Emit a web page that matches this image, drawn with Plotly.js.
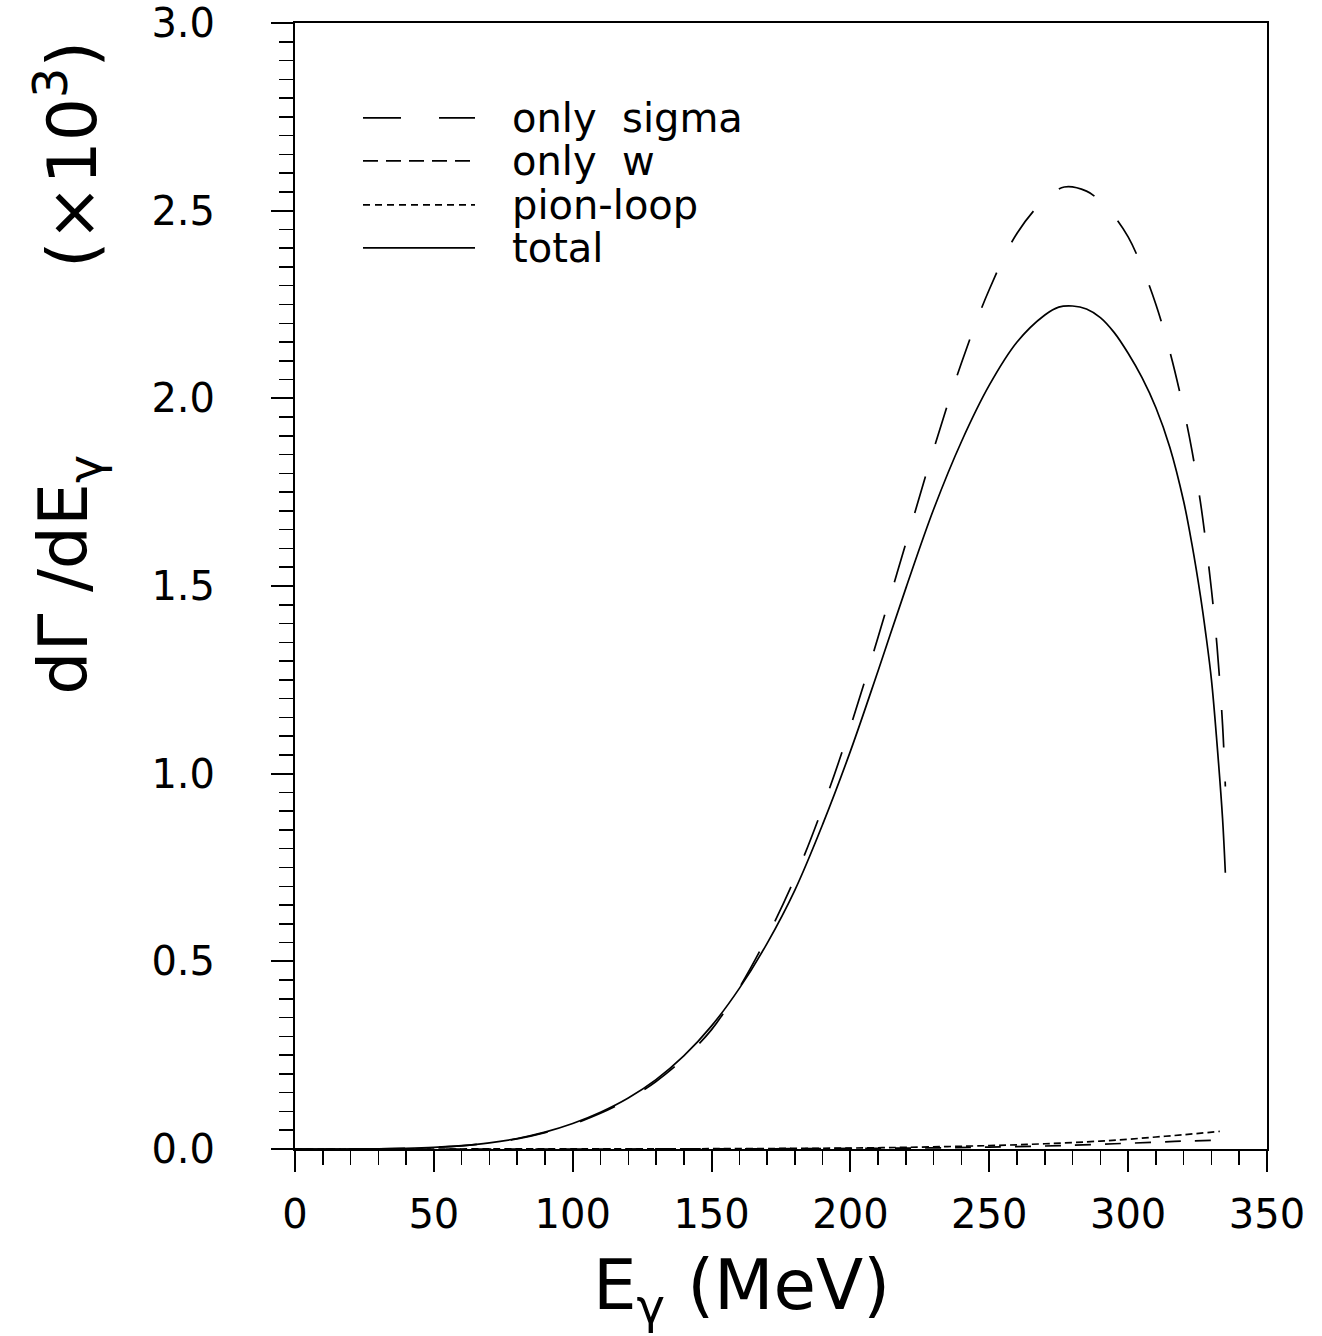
<!DOCTYPE html>
<html><head><meta charset="utf-8">
<script src="https://cdn.plot.ly/plotly-3.0.1.min.js"></script>
<style>html,body{margin:0;padding:0;background:#fff}</style>
</head><body><div id="chart" style="width:1322px;height:1336px"></div>
<script>
// ---- data (E in MeV, dGamma/dE in units of 10^-3) ----
const energyTotal = [0,10,20,30,40,50,60,70,80,90,100,110,120,130,140,150,160,170,180,190,200,210,220,230,240,250,260,270,275,280,285,290,295,300,305,310,315,320,323,326,328,330,332,334,335];
const total       = [0,0,0.0001,0.0006,0.0018,0.0043,0.0088,0.0163,0.028,0.045,0.068,0.098,0.136,0.185,0.248,0.328,0.428,0.548,0.69,0.865,1.06,1.275,1.495,1.705,1.885,2.035,2.15,2.222,2.243,2.246,2.238,2.215,2.175,2.12,2.055,1.975,1.87,1.725,1.61,1.475,1.37,1.25,1.08,0.88,0.736];

const energySigma = [0,10,20,30,40,50,60,70,80,90,100,110,120,130,140,150,160,170,180,190,200,210,220,230,240,250,260,270,277,285,290,295,300,305,310,315,320,323,326,328,330,332,334,335];
const onlySigma   = [0,0,0.0001,0.0006,0.0017,0.0042,0.0085,0.0158,0.027,0.0437,0.066,0.095,0.132,0.18,0.241,0.318,0.43,0.565,0.722,0.91,1.125,1.365,1.615,1.865,2.095,2.29,2.44,2.53,2.563,2.552,2.525,2.485,2.43,2.35,2.25,2.125,1.97,1.86,1.725,1.615,1.49,1.34,1.13,0.966];

const energyW = [0,100,150,200,230,250,270,280,295,310,320,330];
const onlyW   = [0,0,0.0003,0.0015,0.003,0.005,0.008,0.010,0.014,0.018,0.021,0.023];

const energyPion = [0,100,150,200,220,250,270,290,300,310,320,333];
const pionLoop   = [0,0.0002,0.0008,0.0025,0.0045,0.009,0.014,0.021,0.026,0.032,0.038,0.047];

const legendLabels = ["only\u00A0\u00A0sigma", "only\u00A0\u00A0w", "pion-loop", "total"];
const xTickVals = [0,50,100,150,200,250,300,350];
const yTickVals = [0,0.5,1.0,1.5,2.0,2.5,3.0];

// ---- layout geometry ----
const W = 1322, H = 1336;
const L = 295, R = 1267, T = 23, B = 1149.5;
const px = p => (p - L) / (R - L);
const py = p => (B - p) / (B - T);
const FONT = "DejaVu Sans, Liberation Sans, sans-serif";

const dashes = {sigma: "38px,34px", w: "16px,14px", pion: "7px,4px", total: "solid"};
const legendDashes = {sigma: "38px,38px", w: "15px,8px", pion: "7px,5px", total: "solid"};
const LW = 1.7;
const lineStyle = d => ({color: "#000", width: LW, dash: d, shape: "spline", smoothing: 1});

const traces = [
  {x: energySigma, y: onlySigma, mode: "lines", line: lineStyle(dashes.sigma), name: legendLabels[0]},
  {x: energyW, y: onlyW, mode: "lines", line: lineStyle(dashes.w), name: legendLabels[1]},
  {x: energyPion, y: pionLoop, mode: "lines", line: lineStyle(dashes.pion), name: legendLabels[2]},
  {x: energyTotal, y: total, mode: "lines", line: lineStyle(dashes.total), name: legendLabels[3]}
];

const rowsY = [118, 161, 205, 248];
const keys = ["sigma", "w", "pion", "total"];
const shapes = keys.map((k, i) => ({
  type: "line", xref: "paper", yref: "paper",
  x0: px(363), x1: px(475), y0: py(rowsY[i]), y1: py(rowsY[i]),
  line: {color: "#000", width: LW, dash: legendDashes[k]}
}));

const annotations = legendLabels.map((t, i) => ({
  xref: "paper", yref: "paper", x: px(510), y: py(rowsY[i]),
  xanchor: "left", yanchor: "middle", showarrow: false, text: t,
  font: {family: FONT, size: 40, color: "#000"}
}));
annotations.push({
  xref: "paper", yref: "paper", x: px(741), y: py(1290), xanchor: "center", yanchor: "middle",
  showarrow: false, text: "E<sub>γ</sub> (MeV)", font: {family: FONT, size: 69, color: "#000"}
});
annotations.push({
  xref: "paper", yref: "paper", x: px(68), y: py(575), xanchor: "center", yanchor: "middle",
  textangle: -90, showarrow: false, text: "dΓ /dE<sub>γ</sub>", font: {family: FONT, size: 68, color: "#000"}
});
annotations.push({
  xref: "paper", yref: "paper", x: px(68), y: py(155), xanchor: "center", yanchor: "middle",
  textangle: -90, showarrow: false, text: "(×10<sup>3</sup>)", font: {family: FONT, size: 68, color: "#000"}
});

const axisCommon = {
  showline: true, linewidth: 2, linecolor: "#000", mirror: true,
  ticks: "outside", tickwidth: 2, tickcolor: "#000",
  showgrid: false, zeroline: false, fixedrange: true,
  tickfont: {family: FONT, size: 40, color: "#000"}
};

const layout = {
  width: W, height: H,
  margin: {l: L, r: W - R, t: T, b: H - B, pad: 0},
  paper_bgcolor: "#fff", plot_bgcolor: "#fff",
  showlegend: false,
  xaxis: Object.assign({}, axisCommon, {
    range: [0, 350], tickvals: xTickVals, ticktext: xTickVals.map(String),
    ticklen: 21, ticklabelstandoff: 8,
    minor: {dtick: 10, tick0: 0, ticks: "outside", ticklen: 14, tickwidth: 1.5, tickcolor: "#000"}
  }),
  yaxis: Object.assign({}, axisCommon, {
    range: [0, 3], tickvals: yTickVals, ticktext: yTickVals.map(v => v.toFixed(1)),
    ticklen: 22, ticklabelstandoff: 48,
    minor: {dtick: 0.05, tick0: 0, ticks: "outside", ticklen: 14, tickwidth: 1.5, tickcolor: "#000"}
  }),
  shapes: shapes,
  annotations: annotations
};

Plotly.newPlot("chart", traces, layout, {staticPlot: true, displayModeBar: false});
</script>
</body></html>
